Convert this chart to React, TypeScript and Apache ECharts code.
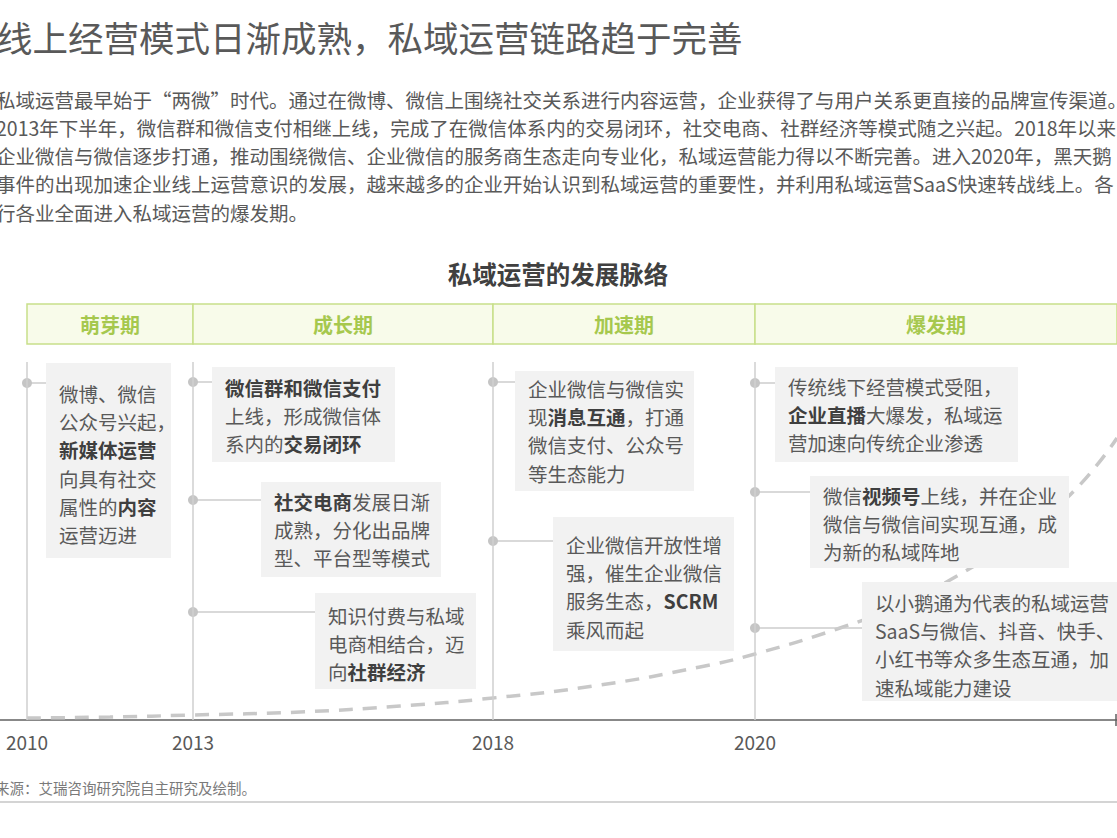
import React, { useEffect, useRef } from 'react';
import * as echarts from 'echarts';

const FONT = '"Noto Sans CJK SC", "Noto Sans", sans-serif';

const headline = '线上经营模式日渐成熟，私域运营链路趋于完善';
const introLines = [
  '私域运营最早始于“两微”时代。通过在微博、微信上围绕社交关系进行内容运营，企业获得了与用户关系更直接的品牌宣传渠道。',
  '2013年下半年，微信群和微信支付相继上线，完成了在微信体系内的交易闭环，社交电商、社群经济等模式随之兴起。2018年以来',
  '企业微信与微信逐步打通，推动围绕微信、企业微信的服务商生态走向专业化，私域运营能力得以不断完善。进入2020年，黑天鹅',
  '事件的出现加速企业线上运营意识的发展，越来越多的企业开始认识到私域运营的重要性，并利用私域运营SaaS快速转战线上。各',
  '行各业全面进入私域运营的爆发期。',
];
const chartTitle = '私域运营的发展脉络';
const sourceNote = '来源：艾瑞咨询研究院自主研究及绘制。';

// timeline axis: distance from the 2010 mark
const yearLabels = ['2010', '2013', '2018', '2020'];
const yearPos = [0, 166, 466, 728];
const phaseNames = ['萌芽期', '成长期', '加速期', '爆发期'];
const phaseEnd = [166, 466, 728, 1098];

// dashed growth curve
const trendPos = [0, 83, 166, 273, 373, 466, 573, 673, 728, 813, 873, 923, 983, 1043, 1090];
const trendLevel = [2, 3, 5, 8, 14, 22, 35, 53, 66, 92, 115, 140, 178, 225, 282];

// milestone notes
const noteStage = [0, 1, 1, 1, 2, 2, 3, 3, 3];
const noteLevel = [337, 338, 220, 108, 338, 179, 337, 228, 92];
const noteLines = [
  ['微博、微信', '公众号兴起，', '{b|新媒体运营}', '向具有社交', '属性的{b|内容}', '运营迈进'],
  ['{b|微信群和微信支付}', '上线，形成微信体', '系内的{b|交易闭环}'],
  ['{b|社交电商}发展日渐', '成熟，分化出品牌', '型、平台型等模式'],
  ['知识付费与私域', '电商相结合，迈', '向{b|社群经济}'],
  ['企业微信与微信实', '现{b|消息互通}，打通', '微信支付、公众号', '等生态能力'],
  ['企业微信开放性增', '强，催生企业微信', '服务生态，{b|SCRM}', '乘风而起'],
  ['传统线下经营模式受阻，', '{b|企业直播}大爆发，私域运', '营加速向传统企业渗透'],
  ['微信{b|视频号}上线，并在企业', '微信与微信间实现互通，成', '为新的私域阵地'],
  ['以小鹅通为代表的私域运营', 'SaaS与微信、抖音、快手、', '小红书等众多生态互通，加', '速私域能力建设'],
];

// note box layout (px): gap from dot, top offset, width, height, text top
const noteBox = [
  [19, -20, 125, 195, 16],
  [19, -15, 183, 95, 6],
  [68, -18, 180, 95, 5],
  [122, -19, 161, 96, 8],
  [22, -11, 179, 120, 3],
  [60, -24, 181, 134, 13],
  [20, -16, 243, 95, 5],
  [55, -16, 259, 92, 5],
  [107, -46, 275, 119, 6],
];

const App: React.FC = () => {
  const chartRef = useRef<HTMLDivElement>(null);

  useEffect(() => {
    if (!chartRef.current) return;
    const chart = echarts.init(chartRef.current, undefined, { renderer: 'svg' });

    const textEl = (text: string, x: number, y: number, size: number, fill: string, extra: any = {}) => ({
      type: 'text',
      x,
      y,
      silent: true,
      style: {
        text,
        fill,
        fontSize: size,
        fontFamily: FONT,
        align: 'left',
        verticalAlign: 'middle',
        textAlign: 'left',
        textVerticalAlign: 'middle',
        ...extra,
      },
    });

    const option: any = {
      animation: false,
      grid: { left: 0, right: 0, top: 295, bottom: 118 },
      xAxis: {
        type: 'value',
        min: -27,
        max: 1090,
        axisLine: { show: true, onZero: false, lineStyle: { color: '#606060', width: 1.5 } },
        axisTick: { show: false },
        splitLine: { show: false },
        axisLabel: {
          customValues: yearPos,
          formatter: (v: number) => {
            const i = yearPos.indexOf(v);
            return i >= 0 ? yearLabels[i] : '';
          },
          color: '#595959',
          fontSize: 19,
          fontFamily: FONT,
          margin: 12,
        },
      },
      yAxis: { type: 'value', min: 0, max: 425, show: false },
      graphic: [
        textEl(headline, -3, 36, 35.5, '#595959'),
        ...introLines.map((l, i) => textEl(l, -4, 99 + i * 28.3, 19.5, '#595959')),
        textEl(chartTitle, 558, 273, 24.5, '#404040', { fontWeight: 'bold', align: 'center', textAlign: 'center' }),
        textEl(sourceNote, -5, 787, 14.5, '#7a7a7a'),
        {
          type: 'line',
          silent: true,
          shape: { x1: 0, y1: 802, x2: 1117, y2: 802 },
          style: { stroke: '#d4d4d4', lineWidth: 2 },
        },
        {
          type: 'line',
          silent: true,
          shape: { x1: 1116, y1: 714, x2: 1116, y2: 726 },
          style: { stroke: '#606060', lineWidth: 1.5 },
        },
      ],
      series: [
        {
          type: 'line',
          data: trendPos.map((p, i) => [p, trendLevel[i]]),
          smooth: 0.5,
          symbol: 'none',
          silent: true,
          clip: false,
          z: 2,
          lineStyle: { color: '#c8c8c8', width: 3.5, type: [14, 10] },
          markLine: {
            silent: true,
            symbol: 'none',
            label: { show: false },
            emphasis: { disabled: true },
            lineStyle: { color: '#cfcfcf', width: 1.5, type: 'solid' },
            data: yearPos.map((p) => [{ coord: [p, 0] }, { coord: [p, 358] }]),
          },
          markArea: {
            silent: true,
            emphasis: { disabled: true },
            itemStyle: { color: '#f8fbea', borderColor: '#c8df8a', borderWidth: 1.5 },
            label: {
              show: true,
              position: 'inside',
              color: '#a6c84e',
              fontSize: 20,
              fontWeight: 'bold',
              fontFamily: FONT,
            },
            data: phaseNames.map((n, i) => [
              { name: n, xAxis: yearPos[i], yAxis: 376 },
              { xAxis: phaseEnd[i], yAxis: 416 },
            ]),
          },
        },
        {
          type: 'custom',
          z: 3,
          clip: false,
          silent: true,
          data: noteStage.map((s, i) => [yearPos[s], noteLevel[i]]),
          encode: { x: 0, y: 1 },
          renderItem: (params: any, api: any) => {
            const i = params.dataIndex;
            const [cx, cy] = api.coord([api.value(0), api.value(1)]);
            const [gap, top, w, h, tTop] = noteBox[i];
            const bx = cx + gap;
            const by = cy + top;
            return {
              type: 'group',
              children: [
                {
                  type: 'line',
                  shape: { x1: cx, y1: cy, x2: bx, y2: cy },
                  style: { stroke: '#cccccc', lineWidth: 1.5 },
                },
                { type: 'circle', shape: { cx, cy, r: 5 }, style: { fill: '#c5c5c5' } },
                { type: 'rect', shape: { x: bx, y: by, width: w, height: h }, style: { fill: '#f2f2f2' } },
                {
                  type: 'text',
                  x: bx + 13,
                  y: by + tTop,
                  style: {
                    text: noteLines[i].join('\n'),
                    fill: '#595959',
                    fontSize: 19.5,
                    fontFamily: FONT,
                    lineHeight: 28.3,
                    align: 'left',
                    verticalAlign: 'top',
                    rich: {
                      b: {
                        fill: '#3f3f3f',
                        fontWeight: 'bold',
                        fontSize: 19.5,
                        fontFamily: FONT,
                        lineHeight: 28.3,
                      },
                    },
                  },
                },
              ],
            };
          },
        },
      ],
    };

    chart.setOption(option);

    const handleResize = () => chart.resize();
    window.addEventListener('resize', handleResize);
    return () => {
      window.removeEventListener('resize', handleResize);
      chart.dispose();
    };
  }, []);

  return (
    <div
      ref={chartRef}
      style={{ position: 'absolute', left: 0, top: 0, width: 1117, height: 838, background: '#ffffff' }}
    />
  );
};

export default App;
